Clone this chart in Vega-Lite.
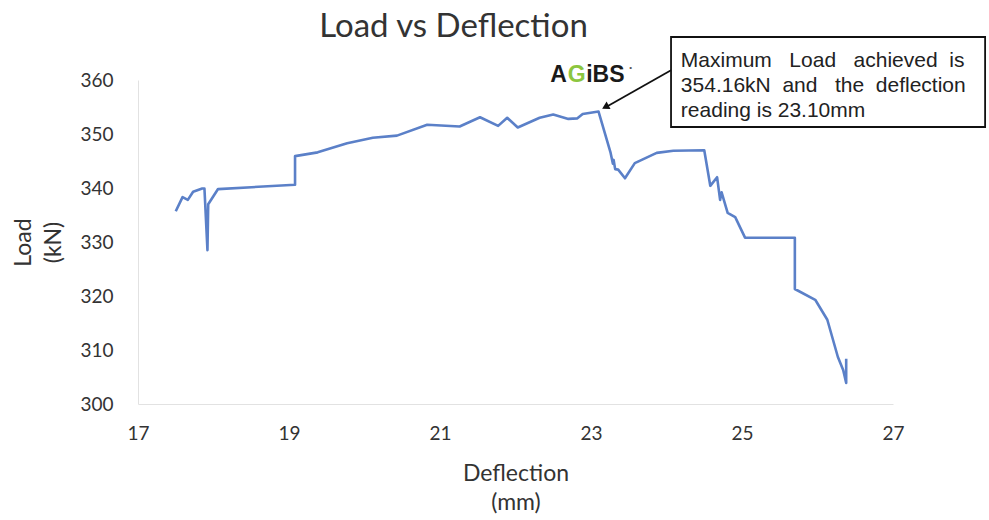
{
  "$schema": "https://vega.github.io/schema/vega-lite/v6.json",
  "autosize": "none",
  "width": 755,
  "height": 324,
  "padding": {"left": 138, "top": 80, "right": 96, "bottom": 116},
  "background": "white",
  "config": {"view": {"stroke": null}, "font": "Lato"},
  "title": {
    "text": "Load vs Deflection",
    "font": "Lato",
    "fontSize": 33,
    "fontWeight": "normal",
    "color": "#333333",
    "anchor": "middle",
    "frame": "group",
    "dx": -62,
    "baseline": "alphabetic",
    "offset": -34
  },
  "datasets": {
    "curve": [
      {"i": 1, "deflection": 17.50, "load": 335.7},
      {"i": 2, "deflection": 17.59, "load": 338.3},
      {"i": 3, "deflection": 17.66, "load": 337.8},
      {"i": 4, "deflection": 17.73, "load": 339.3},
      {"i": 5, "deflection": 17.85, "load": 339.9},
      {"i": 6, "deflection": 17.88, "load": 339.9},
      {"i": 7, "deflection": 17.92, "load": 328.5},
      {"i": 8, "deflection": 17.93, "load": 337.0},
      {"i": 9, "deflection": 18.06, "load": 339.8},
      {"i": 10, "deflection": 19.08, "load": 340.6},
      {"i": 11, "deflection": 19.08, "load": 345.9},
      {"i": 12, "deflection": 19.38, "load": 346.6},
      {"i": 13, "deflection": 19.77, "load": 348.3},
      {"i": 14, "deflection": 20.11, "load": 349.3},
      {"i": 15, "deflection": 20.43, "load": 349.7},
      {"i": 16, "deflection": 20.83, "load": 351.7},
      {"i": 17, "deflection": 21.26, "load": 351.4},
      {"i": 18, "deflection": 21.53, "load": 353.1},
      {"i": 19, "deflection": 21.77, "load": 351.5},
      {"i": 20, "deflection": 21.89, "load": 353.0},
      {"i": 21, "deflection": 22.03, "load": 351.2},
      {"i": 22, "deflection": 22.32, "load": 353.0},
      {"i": 23, "deflection": 22.50, "load": 353.6},
      {"i": 24, "deflection": 22.70, "load": 352.8},
      {"i": 25, "deflection": 22.82, "load": 352.9},
      {"i": 26, "deflection": 22.89, "load": 353.7},
      {"i": 27, "deflection": 23.10, "load": 354.16},
      {"i": 28, "deflection": 23.26, "load": 346.5},
      {"i": 29, "deflection": 23.29, "load": 344.5},
      {"i": 30, "deflection": 23.30, "load": 345.2},
      {"i": 31, "deflection": 23.32, "load": 343.5},
      {"i": 32, "deflection": 23.36, "load": 343.4},
      {"i": 33, "deflection": 23.45, "load": 341.8},
      {"i": 34, "deflection": 23.58, "load": 344.6},
      {"i": 35, "deflection": 23.87, "load": 346.5},
      {"i": 36, "deflection": 24.09, "load": 346.9},
      {"i": 37, "deflection": 24.50, "load": 347.0},
      {"i": 38, "deflection": 24.58, "load": 340.4},
      {"i": 39, "deflection": 24.67, "load": 342.0},
      {"i": 40, "deflection": 24.71, "load": 337.8},
      {"i": 41, "deflection": 24.73, "load": 339.2},
      {"i": 42, "deflection": 24.81, "load": 335.4},
      {"i": 43, "deflection": 24.91, "load": 334.6},
      {"i": 44, "deflection": 25.04, "load": 330.8},
      {"i": 45, "deflection": 25.70, "load": 330.8},
      {"i": 46, "deflection": 25.70, "load": 321.3},
      {"i": 47, "deflection": 25.97, "load": 319.3},
      {"i": 48, "deflection": 26.13, "load": 315.6},
      {"i": 49, "deflection": 26.27, "load": 308.7},
      {"i": 50, "deflection": 26.34, "load": 306.3},
      {"i": 51, "deflection": 26.38, "load": 303.9},
      {"i": 52, "deflection": 26.38, "load": 308.4}
    ],
    "one": [{}]
  },
  "layer": [
    {
      "data": {"name": "curve"},
      "mark": {"type": "line", "color": "#5b80c8", "strokeWidth": 2.6, "strokeJoin": "round"},
      "encoding": {
        "x": {
          "field": "deflection",
          "type": "quantitative",
          "scale": {"domain": [17, 27], "nice": false, "zero": false},
          "axis": {
            "title": ["Deflection", "(mm)"],
            "values": [17, 19, 21, 23, 25, 27],
            "format": "d",
            "labelFlush": false,
            "grid": false,
            "ticks": false,
            "domainColor": "#e2e2e2",
            "domainWidth": 1,
            "labelFont": "Lato",
            "labelFontSize": 19,
            "labelColor": "#333333",
            "labelPadding": 20,
            "titleFont": "Lato",
            "titleFontSize": 23,
            "titleFontWeight": "normal",
            "titleColor": "#333333",
            "titlePadding": 19,
            "titleLineHeight": 29
          }
        },
        "y": {
          "field": "load",
          "type": "quantitative",
          "scale": {"domain": [300, 360], "nice": false, "zero": false},
          "axis": {
            "title": ["Load", "(kN)"],
            "values": [300, 310, 320, 330, 340, 350, 360],
            "format": "d",
            "labelFlush": false,
            "grid": false,
            "ticks": false,
            "domainColor": "#e2e2e2",
            "domainWidth": 1,
            "labelFont": "Lato",
            "labelFontSize": 19,
            "labelColor": "#333333",
            "labelPadding": 25,
            "titleFont": "Lato",
            "titleFontSize": 23,
            "titleFontWeight": "normal",
            "titleColor": "#333333",
            "titlePadding": 14,
            "titleLineHeight": 30
          }
        },
        "order": {"field": "i", "type": "quantitative"}
      }
    },
    {
      "data": {"name": "one"},
      "mark": {"type": "rect", "fill": "white", "stroke": "#111111", "strokeWidth": 1.8},
      "encoding": {
        "x": {"datum": 24.06},
        "x2": {"datum": 28.22},
        "y": {"datum": 367.96},
        "y2": {"datum": 351.3}
      }
    },
    {
      "data": {"name": "one"},
      "mark": {
        "type": "text",
        "text": ["Maximum\u00a0\u00a0\u00a0Load\u00a0\u00a0\u00a0achieved\u00a0\u00a0is", "354.16kN\u00a0\u00a0and\u00a0\u00a0\u00a0the\u00a0\u00a0deflection", "reading is 23.10mm"],
        "font": "Liberation Sans",
        "fontSize": 21,
        "lineHeight": 25,
        "align": "left",
        "baseline": "alphabetic",
        "color": "#222222"
      },
      "encoding": {
        "x": {"datum": 24.19},
        "y": {"datum": 362.4}
      }
    },
    {
      "data": {"name": "one"},
      "mark": {"type": "rule", "color": "#111111", "strokeWidth": 1.8},
      "encoding": {
        "x": {"datum": 24.06},
        "y": {"datum": 361.8},
        "x2": {"datum": 23.2},
        "y2": {"datum": 355.0}
      }
    },
    {
      "data": {"name": "one"},
      "mark": {"type": "point", "shape": "triangle-up", "filled": true, "color": "#111111", "size": 70, "angle": 242, "opacity": 1},
      "encoding": {
        "x": {"datum": 23.19},
        "y": {"datum": 355.0}
      }
    },
    {
      "data": {"name": "one"},
      "mark": {"type": "text", "text": "A", "font": "Liberation Sans", "fontWeight": "bold", "fontSize": 23, "align": "left", "baseline": "alphabetic", "color": "#1a1a1a"},
      "encoding": {"x": {"datum": 22.46}, "y": {"datum": 359.6}}
    },
    {
      "data": {"name": "one"},
      "mark": {"type": "text", "text": "G", "font": "Liberation Sans", "fontWeight": "bold", "fontSize": 23, "align": "left", "baseline": "alphabetic", "color": "#8cc63e", "dx": 17.5},
      "encoding": {"x": {"datum": 22.46}, "y": {"datum": 359.6}}
    },
    {
      "data": {"name": "one"},
      "mark": {"type": "text", "text": "iBS", "font": "Liberation Sans", "fontWeight": "bold", "fontSize": 23, "align": "left", "baseline": "alphabetic", "color": "#1a1a1a", "dx": 36},
      "encoding": {"x": {"datum": 22.46}, "y": {"datum": 359.6}}
    },
    {
      "data": {"name": "one"},
      "mark": {"type": "text", "text": "\u2022", "font": "Liberation Sans", "fontSize": 8, "align": "left", "baseline": "alphabetic", "color": "#555555", "dx": 79, "dy": -12},
      "encoding": {"x": {"datum": 22.46}, "y": {"datum": 359.6}}
    }
  ]
}
